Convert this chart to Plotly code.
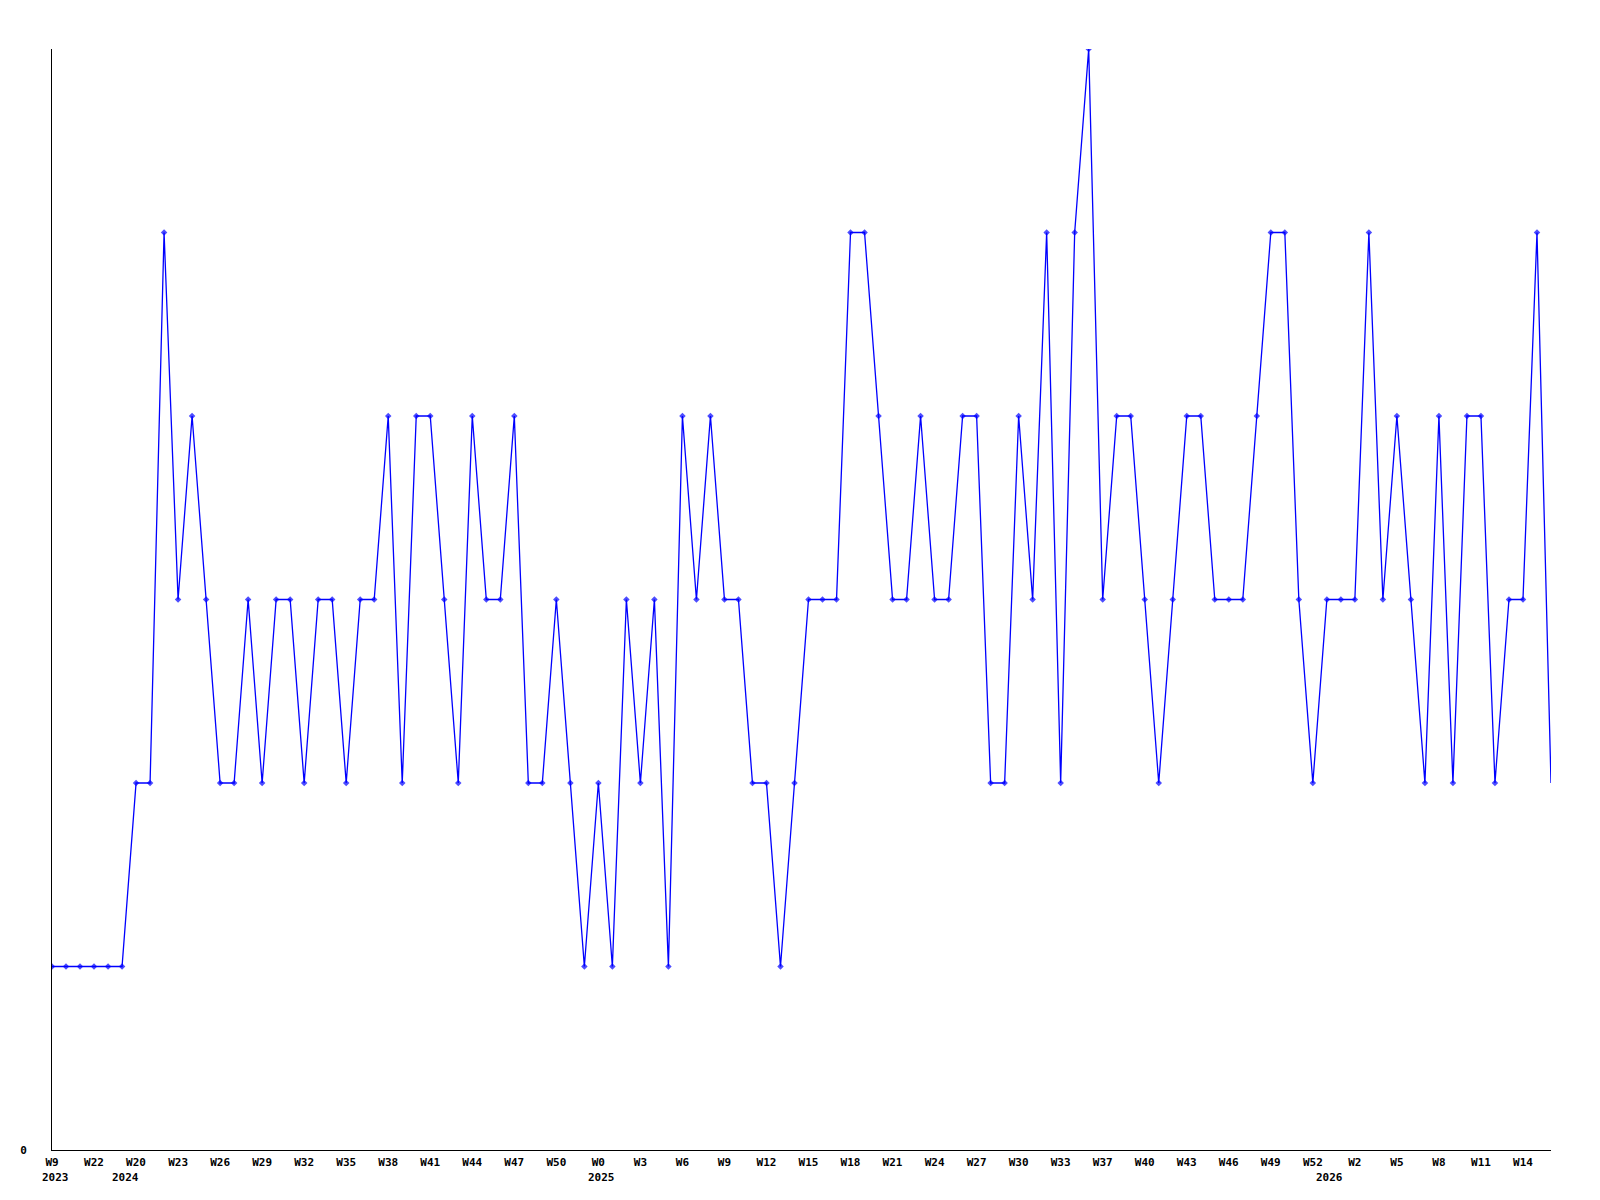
import plotly.graph_objects as go

# weekly values (one per point, equally spaced)
values = [
    1, 1, 1, 1, 1, 1, 2, 2, 5, 3,
    4, 3, 2, 2, 3, 2, 3, 3, 2, 3,
    3, 2, 3, 3, 4, 2, 4, 4, 3, 2,
    4, 3, 3, 4, 2, 2, 3, 2, 1, 2,
    1, 3, 2, 3, 1, 4, 3, 4, 3, 3,
    2, 2, 1, 2, 3, 3, 3, 5, 5, 4,
    3, 3, 4, 3, 3, 4, 4, 2, 2, 4,
    3, 5, 2, 5, 6, 3, 4, 4, 3, 2,
    3, 4, 4, 3, 3, 3, 4, 5, 5, 3,
    2, 3, 3, 3, 5, 3, 4, 3, 2, 4,
    2, 4, 4, 2, 3, 3, 5, 2,
]

# week tick labels, one every 3 points starting at the first point
week_labels = [
    "W9", "W22", "W20", "W23", "W26", "W29", "W32", "W35", "W38", "W41",
    "W44", "W47", "W50", "W0", "W3", "W6", "W9", "W12", "W15", "W18",
    "W21", "W24", "W27", "W30", "W33", "W37", "W40", "W43", "W46", "W49",
    "W52", "W2", "W5", "W8", "W11", "W14",
]
label_step = 3

# year labels and the point index where each year starts
year_labels = ["2023", "2024", "2025", "2026"]
year_start_index = [0, 5, 39, 91]

n = len(values)
x = list(range(n))
tick_positions = [i * label_step for i in range(len(week_labels))]

FONT = dict(family="DejaVu Sans Mono", size=11, color="black", weight="bold")

marker_sizes = [5] * (n - 1) + [0]

fig = go.Figure()
fig.add_trace(go.Scatter(
    x=x, y=values, mode="lines+markers",
    line=dict(color="#0000ff", width=1.3),
    marker=dict(symbol="diamond", size=marker_sizes, color="#0000ff",
                line=dict(width=0)),
    showlegend=False, hoverinfo="x+y",
))

for lbl, idx in zip(year_labels, year_start_index):
    fig.add_annotation(
        x=idx, y=0, xref="x", yref="paper", text=lbl, showarrow=False,
        yanchor="middle", xanchor="center", yshift=-27, xshift=3, font=FONT,
    )

fig.update_layout(
    width=1600, height=1200,
    margin=dict(l=42, r=57, t=41, b=58),
    paper_bgcolor="white", plot_bgcolor="white",
    font=FONT,
    xaxis=dict(
        range=[0, n - 1], tickmode="array", tickvals=tick_positions,
        ticktext=week_labels, showgrid=False, zeroline=False,
        showline=True, linecolor="black", linewidth=1, ticks="",
        ticklabelstandoff=2, tickangle=0, tickfont=FONT, fixedrange=True,
    ),
    yaxis=dict(
        range=[0, 6], tickmode="array", tickvals=[0], ticktext=["0"],
        showgrid=False, zeroline=False, showline=True, linecolor="black",
        linewidth=1, ticks="", ticklabelstandoff=22, tickfont=FONT,
        fixedrange=True,
    ),
)

fig.write_html("out.html")
